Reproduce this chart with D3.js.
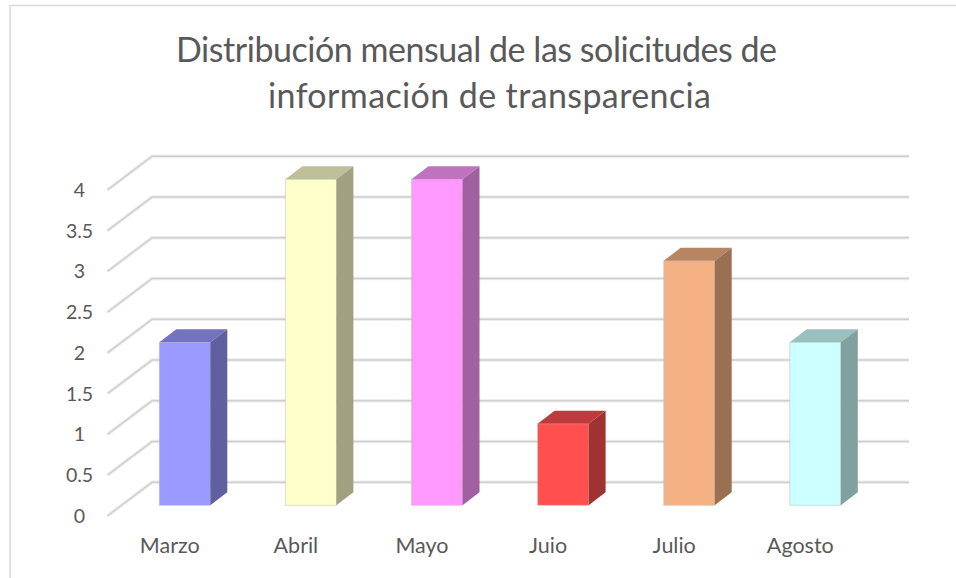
<!DOCTYPE html>
<html>
<head>
  <style>
    html, body { margin: 0; padding: 0; background: #fff; }
    svg { display: block; }
    text { font-family: Lato, "Open Sans", sans-serif; fill: #595959; }
  </style>
</head>
<body>
  <script src="https://d3js.org/d3.v7.min.js"></script>
  <script>
    const months = ['Marzo', 'Abril', 'Mayo', 'Juio', 'Julio', 'Agosto'];
    const solicitudes = [2, 4, 4, 1, 3, 2];
    const yTicks = [0, 0.5, 1, 1.5, 2, 2.5, 3, 3.5, 4];
    const frontColors = ['#9999ff', '#ffffcc', '#ff99ff', '#ff4f4f', '#f4b183', '#ccffff'];
    const titleLines = ['Distribución mensual de las solicitudes de', 'información de transparencia'];

    const width = 956;
    const height = 578;

    const svg = d3.select('body')
      .append('svg')
      .attr('width', width)
      .attr('height', height);

    // chart frame, only top and left show in the crop
    svg.append('path')
      .attr('d', `M10,${height} V5.5 H${width}`)
      .attr('fill', 'none')
      .attr('stroke', '#d9d9d9')
      .attr('stroke-width', 1.5);

    // depth of the fake 3d box
    const depth = { x: 17, y: -13 };
    const wallDepth = { x: 44.5, y: -33.5 };

    // y is the front plane of the bars
    const y = d3.scaleLinear().domain([0, 4]).range([505.3, 179.3]);

    const x = d3.scaleBand()
      .domain(months)
      .range([96.25, 903.85])
      .paddingInner(0.5956)
      .paddingOuter(0.5);

    const wallFront = v => y(v) + 10.5;
    const wallLeft = 107.5;
    const gridPath = d => `M${wallLeft},${wallFront(d)} l${wallDepth.x},${wallDepth.y} H909`;

    // soft halo under each gridline
    svg.append('g')
      .selectAll('path')
      .data(yTicks)
      .enter()
      .append('path')
      .attr('d', gridPath)
      .attr('fill', 'none')
      .attr('stroke', '#eeeeee')
      .attr('stroke-width', 3.5);

    svg.append('g')
      .selectAll('path')
      .data(yTicks)
      .enter()
      .append('path')
      .attr('d', gridPath)
      .attr('fill', 'none')
      .attr('stroke', '#d0d0d0')
      .attr('stroke-width', 1.5);

    svg.append('g')
      .selectAll('text')
      .data(yTicks)
      .enter()
      .append('text')
      .attr('x', 79.5)
      .attr('y', d => wallFront(d) + 7)
      .attr('text-anchor', 'middle')
      .attr('font-size', 19.5)
      .text(d => d);

    const bars = svg.selectAll('.bar')
      .data(months)
      .enter()
      .append('g')
      .attr('class', 'bar');

    const barTop = (d, i) => y(solicitudes[i]);
    const shade = (c, k) => {
      const r = d3.rgb(c);
      return d3.rgb(r.r * k, r.g * k, r.b * k).formatHex();
    };

    // front face
    bars.append('rect')
      .attr('x', d => x(d))
      .attr('y', barTop)
      .attr('width', x.bandwidth())
      .attr('height', (d, i) => y(0) - y(solicitudes[i]))
      .attr('fill', (d, i) => frontColors[i])
      .attr('stroke', 'rgba(190,190,190,0.5)')
      .attr('stroke-width', 1);

    // top face
    bars.append('path')
      .attr('d', (d, i) => {
        const x0 = x(d), y0 = barTop(d, i), w = x.bandwidth();
        return `M${x0},${y0} l${depth.x},${depth.y} h${w} l${-depth.x},${-depth.y} Z`;
      })
      .attr('fill', (d, i) => shade(frontColors[i], 0.75));

    // side face
    bars.append('path')
      .attr('d', (d, i) => {
        const x1 = x(d) + x.bandwidth(), y0 = barTop(d, i);
        return `M${x1},${y0} l${depth.x},${depth.y} V${y(0) + depth.y} L${x1},${y(0)} Z`;
      })
      .attr('fill', (d, i) => shade(frontColors[i], 0.63));

    svg.append('g')
      .selectAll('text')
      .data(months)
      .enter()
      .append('text')
      .attr('x', d => x(d) + x.bandwidth() / 2 - 15)
      .attr('y', 552.5)
      .attr('text-anchor', 'middle')
      .attr('font-size', 21.5)
      .text(d => d);

    // first line sits left of the second, as in the original
    // textLength because Lato spaces its words wider than the original font
    svg.append('g')
      .selectAll('text')
      .data(titleLines)
      .enter()
      .append('text')
      .attr('x', (d, i) => i === 0 ? 476.5 : 489.5)
      .attr('y', (d, i) => 62 + i * 46)
      .attr('text-anchor', 'middle')
      .attr('font-size', 34)
      .attr('textLength', (d, i) => i === 0 ? 601 : 443)
      .text(d => d);
  </script>
</body>
</html>
